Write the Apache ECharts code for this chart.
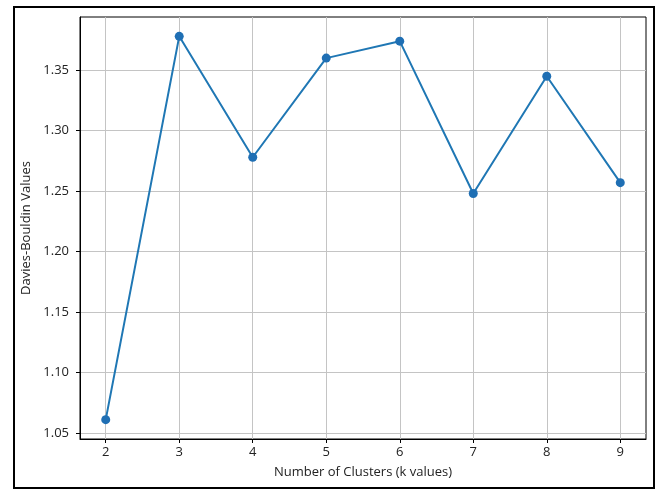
<!DOCTYPE html>
<html>
<head>
<meta charset="utf-8">
<script src="https://cdn.jsdelivr.net/npm/echarts@6/dist/echarts.min.js"></script>
<style>
  html, body { margin: 0; padding: 0; background: #fff; }
  #main { width: 659px; height: 490px; }
</style>
</head>
<body>
<div id="main"></div>
<script>
// k values and the Davies-Bouldin score for each
var kValues = [2, 3, 4, 5, 6, 7, 8, 9];
var dbValues = [1.061, 1.378, 1.278, 1.360, 1.374, 1.248, 1.345, 1.257];
var yTicks = [1.05, 1.10, 1.15, 1.20, 1.25, 1.30, 1.35];

var chart = echarts.init(document.getElementById("main"));
chart.setOption({
  animation: false,
  textStyle: { fontFamily: "Open Sans" },
  graphic: [
    {
      type: "rect",
      shape: { x: 14, y: 7, width: 640, height: 481 },
      style: { fill: "none", stroke: "#000", lineWidth: 2 }
    }
  ],
  grid: {
    left: 80,
    right: 13,
    top: 17,
    bottom: 51,
    show: true,
    borderColor: "#000",
    borderWidth: 1
  },
  xAxis: {
    type: "value",
    min: 1.65,
    max: 9.35,
    name: "Number of Clusters (k values)",
    nameLocation: "middle",
    nameGap: 27,
    nameTextStyle: { fontSize: 13, color: "#222" },
    axisLine: { show: true, lineStyle: { color: "#000" } },
    axisTick: { show: true, length: 4, customValues: kValues, lineStyle: { color: "#000" } },
    axisLabel: { customValues: kValues, fontSize: 13, color: "#222", margin: 7 },
    splitLine: { show: true, lineStyle: { color: "#c4c4c4", width: 1 } }
  },
  yAxis: {
    type: "value",
    min: 1.045,
    max: 1.394,
    name: "Davies-Bouldin Values",
    nameLocation: "middle",
    nameGap: 45,
    nameTextStyle: { fontSize: 13, color: "#222" },
    axisLine: { show: true, lineStyle: { color: "#000" } },
    axisTick: { show: true, length: 4, customValues: yTicks, lineStyle: { color: "#000" } },
    axisLabel: {
      customValues: yTicks,
      fontSize: 13,
      color: "#222",
      margin: 11,
      formatter: function (v) { return v.toFixed(2); }
    },
    splitLine: { show: true, lineStyle: { color: "#c4c4c4", width: 1 } }
  },
  series: [
    {
      type: "line",
      data: kValues.map(function (k, i) { return [k, dbValues[i]]; }),
      symbol: "circle",
      symbolSize: 9,
      itemStyle: { color: "#1f6fb4" },
      lineStyle: { color: "#1f77b4", width: 2 }
    }
  ]
});
</script>
</body>
</html>
